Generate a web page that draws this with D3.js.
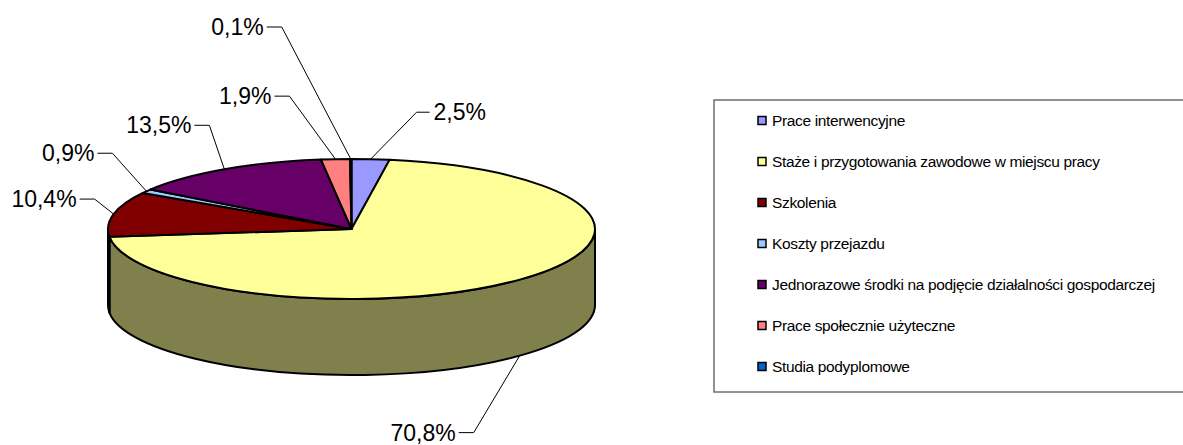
<!DOCTYPE html>
<html lang='pl'>
	<head>
		<meta charset='utf-8'>
		<title>Struktura wydatków</title>
		<script type='text/javascript' src='https://cdn.jsdelivr.net/npm/d3@7/dist/d3.min.js'></script>
		<style>
			body { margin: 0; background: #fff; }
			text { font-family: 'Liberation Sans', Arial, sans-serif; }
		</style>
	</head>
	<body>
		<svg id='svg' width='1183' height='445'></svg>
		<script type='text/javascript'>
		{
			// data
			var categories = ['Prace interwencyjne', 'Staże i przygotowania zawodowe w miejscu pracy', 'Szkolenia',
				'Koszty przejazdu', 'Jednorazowe środki na podjęcie działalności gospodarczej',
				'Prace społecznie użyteczne', 'Studia podyplomowe'];
			var values = [2.5, 70.8, 10.4, 0.9, 13.5, 1.9, 0.1];
			var value_labels = ['2,5%', '70,8%', '10,4%', '0,9%', '13,5%', '1,9%', '0,1%'];

			var colors = ['#9999ff', '#ffff99', '#800000', '#99ccff', '#660066', '#ff8080', '#0066cc'];
			// leader line knee, offset from the anchor on the rim
			var label_knee = [[46, -47], [-46, 77], [-19, -15], [-34, -38], [-15, -44], [-46, -63], [-69, -132]];

			var svg = d3.select('#svg');
			var cx = 351.5, cy = 229, rx = 243.5, ry = 70, depth = 76;

			var pie = d3.pie().sort(null).value(d => d).startAngle(0).endAngle(2 * Math.PI);
			var arcs = pie(values);

			function pt(a, dy) {
				return [cx + rx * Math.sin(a), cy - ry * Math.cos(a) + (dy || 0)];
			}
			function topPath(a0, a1) {
				var p0 = pt(a0), p1 = pt(a1);
				var large = (a1 - a0) > Math.PI ? 1 : 0;
				return 'M' + cx + ',' + cy + 'L' + p0 + 'A' + rx + ',' + ry + ' 0 ' + large + ' 1 ' + p1 + 'Z';
			}
			function sidePath(a0, a1) {
				var p0 = pt(a0), p1 = pt(a1), q0 = pt(a0, depth), q1 = pt(a1, depth);
				return 'M' + p0 + 'A' + rx + ',' + ry + ' 0 0 1 ' + p1 + 'L' + q1 +
					'A' + rx + ',' + ry + ' 0 0 0 ' + q0 + 'Z';
			}
			function shade(c) {
				var r = d3.rgb(c);
				return d3.rgb(r.r * 0.5, r.g * 0.5, r.b * 0.5).toString();
			}

			// side walls, only the front half (90°..270°) shows
			var g_side = svg.append('g');
			arcs.forEach(function(d, i) {
				var b0 = Math.max(d.startAngle, Math.PI / 2), b1 = Math.min(d.endAngle, 3 * Math.PI / 2);
				if (b1 <= b0) return;
				g_side.append('path')
					.attr('d', sidePath(b0, b1))
					.attr('fill', shade(colors[i]))
					.attr('stroke', '#000').attr('stroke-width', 2).attr('stroke-linejoin', 'round');
			});

			// tops
			svg.append('g').selectAll('path').data(arcs).enter().append('path')
				.attr('d', d => topPath(d.startAngle, d.endAngle))
				.attr('fill', (d, i) => colors[i])
				.attr('stroke', '#000').attr('stroke-width', 2).attr('stroke-linejoin', 'round');

			// data labels with leader lines
			var g_lab = svg.append('g');
			arcs.forEach(function(d, i) {
				var mid = (d.startAngle + d.endAngle) / 2;
				var front = Math.cos(mid) < 0;
				var a = pt(mid, front ? depth : 0);
				var k = [a[0] + label_knee[i][0], a[1] + label_knee[i][1]];
				var right = label_knee[i][0] > 0;
				var e = [k[0] + (right ? 13 : -15), k[1]];
				g_lab.append('path')
					.attr('d', 'M' + a + 'L' + k + 'L' + e)
					.attr('fill', 'none').attr('stroke', '#000').attr('stroke-width', 1);
				g_lab.append('text')
					.attr('x', e[0] + (right ? 4 : -3)).attr('y', e[1])
					.attr('dy', '0.35em')
					.attr('text-anchor', right ? 'start' : 'end')
					.attr('font-size', 23)
					.text(value_labels[i]);
			});

			// legend
			var leg = svg.append('g');
			leg.append('rect').attr('x', 714).attr('y', 100).attr('width', 480).attr('height', 292)
				.attr('fill', '#fff').attr('stroke', '#6e6e6e').attr('stroke-width', 1.5);
			var row = d3.scaleBand().domain(d3.range(categories.length)).range([100, 387]);
			var items = leg.selectAll('.item').data(categories).enter().append('g')
				.attr('transform', (d, i) => 'translate(758,' + (row(i) + row.bandwidth() / 2) + ')');
			items.append('rect').attr('x', 0).attr('y', -4).attr('width', 8).attr('height', 8)
				.attr('fill', (d, i) => colors[i]).attr('stroke', '#000').attr('stroke-width', 1.5);
			items.append('text').attr('x', 14).attr('dy', '0.35em').attr('font-size', 15.5)
				.attr('letter-spacing', '-0.35px')
				.text(d => d);
		}
		</script>
	</body>
</html>
